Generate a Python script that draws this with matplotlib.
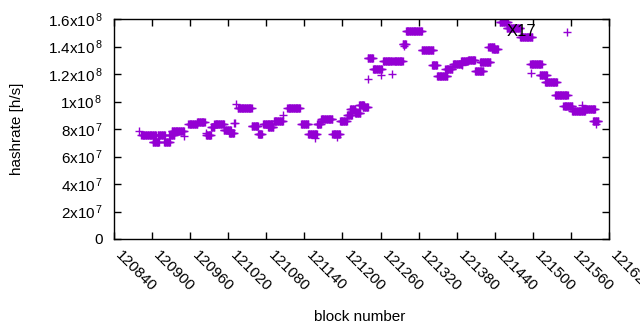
import numpy as np
import matplotlib
matplotlib.use("Agg")
import matplotlib.pyplot as plt
from matplotlib.transforms import ScaledTranslation

plt.rcParams['font.family'] = ['Liberation Sans', 'DejaVu Sans']
plt.rcParams['mathtext.fontset'] = 'custom'
plt.rcParams['mathtext.rm'] = 'Liberation Sans'
plt.rcParams['mathtext.default'] = 'regular'

# runs of blocks with constant hashrate estimate (first block, last block, hashrate)
seg_start = [120883, 120901, 120909, 120919, 120927, 120931, 120957, 120971, 120985, 120993,
             120998, 121013, 121021, 121035, 121057, 121067, 121075, 121083, 121092, 121113,
             121135, 121146, 121160, 121166, 121184, 121196, 121207, 121212, 121220, 121226,
             121232, 121240, 121248, 121264, 121280, 121295, 121300, 121325, 121341, 121349,
             121363, 121374, 121387, 121398, 121409, 121417, 121430, 121436, 121448, 121459,
             121480, 121496, 121511, 121519, 121535, 121548, 121562, 121577, 121595]
seg_end = [120906, 120911, 120920, 120928, 120935, 120950, 120971, 120983, 120993, 120998,
           121013, 121024, 121029, 121057, 121067, 121073, 121089, 121091, 121106, 121133,
           121146, 121160, 121166, 121184, 121196, 121207, 121215, 121220, 121228, 121234,
           121240, 121248, 121262, 121278, 121295, 121300, 121325, 121343, 121349, 121365,
           121373, 121388, 121398, 121409, 121422, 121433, 121439, 121445, 121461, 121480,
           121499, 121514, 121522, 121538, 121555, 121562, 121582, 121598, 121603]
seg_value = [0.753e8, 0.702e8, 0.753e8, 0.705e8, 0.756e8, 0.785e8, 0.833e8, 0.850e8, 0.760e8, 0.815e8,
             0.833e8, 0.796e8, 0.770e8, 0.953e8, 0.825e8, 0.764e8, 0.840e8, 0.818e8, 0.858e8, 0.956e8,
             0.840e8, 0.767e8, 0.836e8, 0.876e8, 0.767e8, 0.858e8, 0.905e8, 0.942e8, 0.916e8, 0.978e8,
             0.960e8, 1.313e8, 1.240e8, 1.295e8, 1.295e8, 1.418e8, 1.513e8, 1.378e8, 1.262e8, 1.186e8,
             1.236e8, 1.276e8, 1.298e8, 1.302e8, 1.225e8, 1.284e8, 1.396e8, 1.382e8, 1.575e8, 1.538e8,
             1.466e8, 1.276e8, 1.193e8, 1.145e8, 1.047e8, 0.967e8, 0.931e8, 0.945e8, 0.858e8]

# isolated points
out_x = [120880, 120951, 120985, 121030, 121032, 121029, 121070, 121107, 121157, 121162,
         121191, 121240, 121261, 121278, 121297, 121361, 121388, 121435, 121497, 121554,
         121578, 121599]
out_y = [0.785e8, 0.749e8, 0.771e8, 0.844e8, 0.982e8, 0.844e8, 0.764e8, 0.902e8, 0.735e8, 0.836e8,
         0.742e8, 1.164e8, 1.193e8, 1.200e8, 1.404e8, 1.236e8, 1.265e8, 1.389e8, 1.207e8, 1.505e8,
         0.975e8, 0.840e8]

yticks = [0, 2e7, 4e7, 6e7, 8e7, 1e8, 1.2e8, 1.4e8, 1.6e8]
ytick_labels = ['0', '2x10$^{\\,7}$', '4x10$^{\\,7}$', '6x10$^{\\,7}$', '8x10$^{\\,7}$',
                '1x10$^{\\,8}$', '1.2x10$^{\\,8}$', '1.4x10$^{\\,8}$', '1.6x10$^{\\,8}$']
xticks = list(range(120840, 121621, 60))

bx = np.concatenate([np.arange(s, e + 1) for s, e in zip(seg_start, seg_end)] + [np.array(out_x)])
by = np.concatenate([np.full(e - s + 1, v) for s, e, v in zip(seg_start, seg_end, seg_value)] + [np.array(out_y)])

fig = plt.figure(figsize=(6.4, 3.3), dpi=100)
ax = fig.add_axes([114/640, 1 - 239/330, (609-114)/640, (239-19)/330])
ax.plot(bx, by, linestyle='none', marker='+', markersize=5.2, markeredgewidth=1.0,
        color='#9400D3')

ax.set_xlim(120840, 121620)
ax.set_ylim(0, 1.6e8)
ax.set_yticks(yticks)
ax.set_yticklabels(ytick_labels, fontsize=11)
ax.set_xticks(xticks)
ax.set_xticklabels([str(t) for t in xticks], fontsize=11, rotation=-45,
                   ha='left', va='top', rotation_mode='anchor')
ax.tick_params(axis='both', direction='in', length=5, width=1, top=True, right=True,
               color='black')
ax.tick_params(axis='x', pad=9)
ax.tick_params(axis='y', pad=8)
shift = ScaledTranslation(9/100, 3/100, fig.dpi_scale_trans)
for lbl in ax.get_xticklabels():
    lbl.set_transform(lbl.get_transform() + shift)
for sp in ax.spines.values():
    sp.set_linewidth(1)

ax.set_xlabel('block number', fontsize=11)
ax.xaxis.set_label_coords((360-114)/495, -(310-239)/220)
ax.set_ylabel('hashrate [h/s]', fontsize=11)
ax.yaxis.set_label_coords(-(114-24)/495, 0.5)

ax.text(121458, 1.51e8, 'X17', fontsize=12, ha='left', va='center', color='black')

fig.savefig('out.png', dpi=100)
